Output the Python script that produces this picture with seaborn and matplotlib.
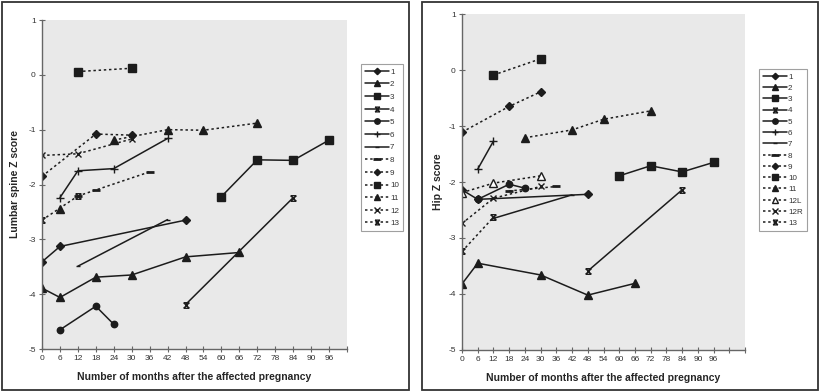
import matplotlib
matplotlib.use("Agg")
import matplotlib.pyplot as plt
from matplotlib.lines import Line2D
from matplotlib.patches import Rectangle
from matplotlib.path import Path
import seaborn as sns
import pandas as pd

# series labels
spine_labels = ["1", "2", "3", "4", "5", "6", "7", "8", "9", "10", "11", "12", "13"]
hip_labels = ["1", "2", "3", "4", "5", "6", "7", "8", "9", "10", "11", "12L", "12R", "13"]

# lumbar spine: months after pregnancy / Z score per patient
spine_months = {
    "1": [0, 6, 48], "2": [0, 6, 18, 30, 48, 66], "3": [60, 72, 84, 96],
    "4": [48, 84], "5": [6, 18, 24], "6": [6, 12, 24, 42], "7": [12, 42],
    "8": [12, 18, 36], "9": [0, 18, 30], "10": [12, 30],
    "11": [6, 24, 42, 54, 72], "12": [0, 12, 30], "13": [0, 12],
}
spine_z = {
    "1": [-3.41, -3.13, -2.65], "2": [-3.89, -4.06, -3.69, -3.65, -3.32, -3.24],
    "3": [-2.22, -1.55, -1.56, -1.19], "4": [-4.19, -2.24],
    "5": [-4.65, -4.22, -4.55], "6": [-2.24, -1.75, -1.71, -1.16],
    "7": [-3.49, -2.64], "8": [-2.21, -2.10, -1.77], "9": [-1.85, -1.08, -1.10],
    "10": [0.06, 0.12], "11": [-2.45, -1.19, -1.00, -1.01, -0.88],
    "12": [-1.47, -1.44, -1.17], "13": [-2.65, -2.21],
}
# segment id, so missing visits break the line
spine_seg = {"11": [0, 1, 1, 1, 1]}

# hip: months after pregnancy / Z score per patient
hip_months = {
    "1": [0, 6, 48], "2": [0, 6, 30, 48, 66], "3": [60, 72, 84, 96],
    "4": [48, 84], "5": [6, 18, 24], "6": [6, 12], "7": [12, 42],
    "8": [18, 36], "9": [0, 18, 30], "10": [12, 30], "11": [24, 42, 54, 72],
    "12L": [0, 12, 30], "12R": [0, 12, 30], "13": [0, 12],
}
hip_z = {
    "1": [-2.14, -2.31, -2.22], "2": [-3.82, -3.45, -3.66, -4.02, -3.81],
    "3": [-1.89, -1.71, -1.82, -1.65], "4": [-3.59, -2.14],
    "5": [-2.31, -2.04, -2.11], "6": [-1.77, -1.27], "7": [-2.65, -2.23],
    "8": [-2.16, -2.08], "9": [-1.11, -0.65, -0.39], "10": [-0.09, 0.20],
    "11": [-1.21, -1.07, -0.88, -0.73], "12L": [-2.19, -2.02, -1.89],
    "12R": [-2.74, -2.29, -2.08], "13": [-3.24, -2.63],
}

# Excel-like "star" marker (x with bars)
hourglass = Path([(-1, -1), (1, 1), (-1, 1), (1, -1), (-1, 1), (1, 1), (-1, -1), (1, -1)],
                 [Path.MOVETO, Path.LINETO] * 4)

dot = (0, (1.6, 1.8))
ink = "#1c1c1c"
styles = {
    "1": dict(marker="D", ms=3.8, ls="-"),
    "2": dict(marker="^", ms=5.2, ls="-"),
    "3": dict(marker="s", ms=5.2, ls="-"),
    "4": dict(marker=hourglass, ms=4, ls="-"),
    "5": dict(marker="o", ms=4.6, ls="-"),
    "6": dict(marker="+", ms=5.5, ls="-"),
    "7": dict(marker="_", ms=3, ls="-"),
    "8": dict(marker="_", ms=6, ls=dot, mew=2),
    "9": dict(marker="D", ms=3.8, ls=dot),
    "10": dict(marker="s", ms=5.2, ls=dot),
    "11": dict(marker="^", ms=5.2, ls=dot),
    "12": dict(marker="x", ms=4.4, ls=dot),
    "12L": dict(marker="^", ms=5.2, ls=dot, mfc="white"),
    "12R": dict(marker="x", ms=4.4, ls=dot),
    "13": dict(marker=hourglass, ms=4, ls=dot),
}

sns.set_theme(style="white")
plt.rcParams["font.family"] = ["Liberation Sans Narrow", "Liberation Sans", "DejaVu Sans"]
plt.rcParams["axes.unicode_minus"] = False

fig = plt.figure(figsize=(8.21, 3.92), dpi=100)

# panel frames
fig.add_artist(Rectangle((2 / 821, 2 / 392), 407 / 821, 388 / 392, transform=fig.transFigure,
                         fill=False, lw=1.3, ec="#333333"))
fig.add_artist(Rectangle((422 / 821, 2 / 392), 396 / 821, 388 / 392, transform=fig.transFigure,
                         fill=False, lw=1.3, ec="#333333"))

ax1 = fig.add_axes([42 / 821, 43 / 392, 305 / 821, 329 / 392])
ax2 = fig.add_axes([462 / 821, 42 / 392, 283 / 821, 336 / 392])


def draw(ax, labels, months, zs, segs, xmax):
    for lab in labels:
        st = dict(styles[lab])
        mfc = st.pop("mfc", ink)
        mew = st.pop("mew", 1.0)
        seg = segs.get(lab, [0] * len(months[lab]))
        df = pd.DataFrame({"month": months[lab], "z": zs[lab], "seg": seg})
        sns.lineplot(data=df, x="month", y="z", units="seg", estimator=None, sort=False,
                     ax=ax, color=ink, lw=1.1, mec=ink, mfc=mfc, mew=mew, **st)
    ax.set_facecolor("#e9e9e9")
    ax.set_xlim(0, xmax)
    ax.set_ylim(-5, 1)
    ticks = list(range(0, xmax + 1, 6))
    ax.set_xticks(ticks)
    ax.set_xticklabels([str(t) if t <= 96 else "" for t in ticks])
    ax.set_yticks(range(-5, 2))
    ax.tick_params(direction="inout", length=5, width=0.8, color="#666666",
                   labelsize=6, labelcolor="#333333", pad=2)
    ax.tick_params(axis="x", bottom=True)
    ax.tick_params(axis="y", left=True)
    for side in ["top", "right"]:
        ax.spines[side].set_visible(False)
    for side in ["left", "bottom"]:
        ax.spines[side].set_color("#666666")
        ax.spines[side].set_linewidth(1.0)
    ax.set_xlabel("Number of months after the affected pregnancy", fontsize=7.5,
                  fontweight="bold", labelpad=7)


draw(ax1, spine_labels, spine_months, spine_z, spine_seg, 102)
ax1.set_ylabel("Lumbar spine Z score", fontsize=7.5, fontweight="bold", labelpad=6)
draw(ax2, hip_labels, hip_months, hip_z, {}, 108)
ax2.set_ylabel("Hip Z score", fontsize=7.5, fontweight="bold", labelpad=4)


def handles(labels):
    out = []
    for lab in labels:
        st = dict(styles[lab])
        mfc = st.pop("mfc", ink)
        mew = st.pop("mew", 1.0)
        st["ms"] = st["ms"] * 0.85
        out.append(Line2D([], [], color=ink, lw=1.1, mec=ink, mfc=mfc, mew=mew, **st))
    return out


leg_kw = dict(loc="upper left", borderaxespad=0, frameon=True, fancybox=False,
              fontsize=5.8, handlelength=3.0, handletextpad=0.1,
              borderpad=0.5, edgecolor="#888888")
leg1 = fig.legend(handles(spine_labels), spine_labels, labelspacing=0.62,
                  bbox_to_anchor=(361 / 821, 1 - 64 / 392), **leg_kw)
leg2 = fig.legend(handles(hip_labels), hip_labels, labelspacing=0.45,
                  bbox_to_anchor=(759 / 821, 1 - 69 / 392), **leg_kw)
for leg in (leg1, leg2):
    leg.get_frame().set_linewidth(0.8)
    for t in leg.get_texts():
        t.set_color("#333333")

fig.savefig("out.png", dpi=100)
